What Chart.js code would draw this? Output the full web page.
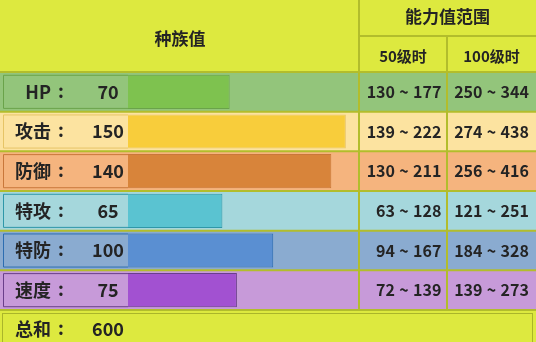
<!DOCTYPE html>
<html>
<head>
<meta charset="utf-8">
<script src="https://cdn.jsdelivr.net/npm/chart.js@4"></script>
<style>
html, body { margin: 0; padding: 0; background: #dde93f; }
canvas { display: block; }
</style>
</head>
<body>
<canvas id="statChart" width="536" height="342"></canvas>
<script>
// data
var statNames = ["HP", "攻击", "防御", "特攻", "特防", "速度"];
var baseStats = [70, 150, 140, 65, 100, 75];
var range50 = [[130, 177], [139, 222], [130, 211], [63, 128], [94, 167], [72, 139]];
var range100 = [[250, 344], [274, 438], [256, 416], [121, 251], [184, 328], [139, 273]];
var totalStat = 600;

// styles
var rowColors = ['#93c57b', '#fce3a0', '#f5b47e', '#a5d7dc', '#8aabd0', '#c79ad9'];
var barColors = ['#7ec24f', '#f8cd3b', '#d8843a', '#5ac3d1', '#5a8fd2', '#a251d1'];
var edgeColors = ['#6aa34a', '#e6c466', '#c9773a', '#2f97a8', '#2d6db0', '#6a3f8a'];
var headerColor = '#dde93f';
var lineColor = '#b2bd2c';
var textColor = '#242424';
var FONT = '"Noto Sans CJK SC", "Noto Sans", sans-serif';

var colX1 = 359, colX2 = 447;

function drawRange(ctx, pair, cx, cy) {
    ctx.textAlign = 'right';
    ctx.fillText(String(pair[0]), cx - 9, cy);
    ctx.textAlign = 'center';
    ctx.fillText('~', cx, cy);
    ctx.textAlign = 'left';
    ctx.fillText(String(pair[1]), cx + 9, cy);
    ctx.textAlign = 'center';
}

function drawLabel(ctx, name, cy) {
    ctx.textAlign = 'right';
    ctx.fillText(name, 51, cy);
    ctx.textAlign = 'center';
    ctx.fillText(':', 61, cy - 1);
}

var tablePlugin = {
    id: 'statTable',
    beforeDatasetsDraw: function (chart) {
        var ctx = chart.ctx, y = chart.scales.y, area = chart.chartArea;
        var W = chart.width, H = chart.height;
        var band = (area.bottom - area.top) / statNames.length;
        ctx.save();
        ctx.fillStyle = headerColor;
        ctx.fillRect(0, 0, W, H);
        // row backgrounds
        statNames.forEach(function (n, i) {
            var cy = y.getPixelForValue(i);
            ctx.fillStyle = rowColors[i];
            ctx.fillRect(0, cy - band / 2, W, band);
        });
        // label boxes
        var meta = chart.getDatasetMeta(0);
        meta.data.forEach(function (bar, i) {
            var top = bar.y - bar.height / 2;
            ctx.strokeStyle = edgeColors[i];
            ctx.lineWidth = 1;
            ctx.beginPath();
            ctx.moveTo(area.left, top + 0.5);
            ctx.lineTo(3.5, top + 0.5);
            ctx.lineTo(3.5, top + bar.height - 0.5);
            ctx.lineTo(area.left, top + bar.height - 0.5);
            ctx.stroke();
        });
        // grid lines
        ctx.strokeStyle = lineColor;
        ctx.lineWidth = 2;
        ctx.beginPath();
        for (var i = 0; i <= statNames.length; i++) {
            var ly = area.top + i * band;
            ctx.moveTo(0, ly);
            ctx.lineTo(W, ly);
        }
        ctx.moveTo(colX1, 0);
        ctx.lineTo(colX1, area.bottom);
        ctx.moveTo(colX2, 36);
        ctx.lineTo(colX2, area.bottom);
        ctx.moveTo(colX1, 36);
        ctx.lineTo(W, 36);
        ctx.stroke();
        // total row frame
        ctx.lineWidth = 1;
        ctx.strokeStyle = '#aab52a';
        ctx.strokeRect(2.5, area.bottom + 3.5, W - 6, H - area.bottom);
        ctx.restore();
    },
    afterDatasetsDraw: function (chart) {
        var ctx = chart.ctx, y = chart.scales.y, area = chart.chartArea;
        var W = chart.width, H = chart.height;
        ctx.save();
        ctx.fillStyle = textColor;
        ctx.textAlign = 'center';
        ctx.textBaseline = 'middle';
        // header
        ctx.font = 'bold 17px ' + FONT;
        ctx.fillText('种族值', 180, 39);
        ctx.fillText('能力值范围', (colX1 + W) / 2, 17);
        ctx.font = 'bold 15px ' + FONT;
        ctx.fillText('50级时', (colX1 + colX2) / 2, 56);
        ctx.fillText('100级时', (colX2 + W) / 2, 56);
        // rows
        statNames.forEach(function (n, i) {
            var cy = y.getPixelForValue(i);
            ctx.font = 'bold 18px ' + FONT;
            drawLabel(ctx, n, cy);
            ctx.fillText(String(baseStats[i]), 108, cy);
            ctx.font = 'bold 16px ' + FONT;
            drawRange(ctx, range50[i], (colX1 + colX2) / 2 + 1, cy);
            drawRange(ctx, range100[i], (colX2 + W) / 2, cy);
        });
        // total
        var ty = (area.bottom + H) / 2 + 3;
        ctx.font = 'bold 18px ' + FONT;
        drawLabel(ctx, '总和', ty);
        ctx.fillText(String(totalStat), 108, ty);
        ctx.restore();
    }
};

new Chart(document.getElementById('statChart'), {
    type: 'bar',
    data: {
        labels: statNames,
        datasets: [{
            data: baseStats,
            backgroundColor: barColors,
            borderColor: edgeColors,
            borderWidth: { top: 1, right: 1, bottom: 1, left: 0 },
            borderSkipped: false,
            barPercentage: 0.86,
            categoryPercentage: 1
        }]
    },
    options: {
        indexAxis: 'y',
        responsive: false,
        animation: false,
        layout: { padding: { left: 128, right: 180, top: 72, bottom: 32 } },
        scales: {
            x: { display: false, min: 0, max: 157 },
            y: { display: false }
        },
        plugins: {
            legend: { display: false },
            tooltip: { enabled: false }
        }
    },
    plugins: [tablePlugin]
});
</script>
</body>
</html>
